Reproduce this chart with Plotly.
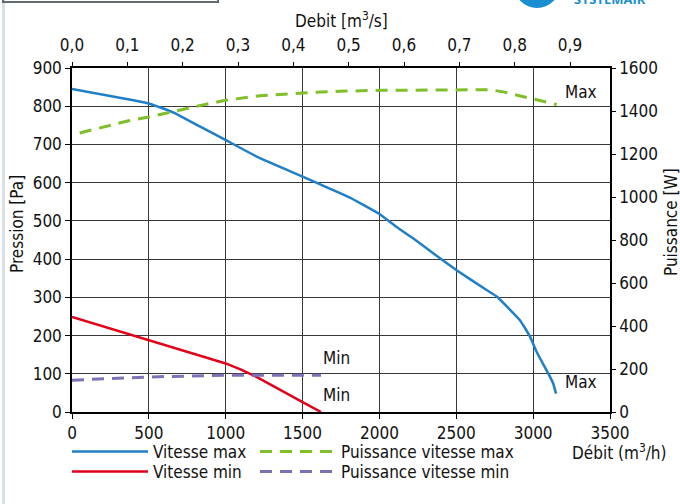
import plotly.graph_objects as go

# ---------------- data ----------------
q_vmax = [0, 354, 500, 658, 831, 998, 1222, 1500, 1680, 1808, 1895, 2000, 2112, 2210,
          2394, 2502, 2697, 2763, 2914, 2980, 3023, 3110, 3131, 3149]
p_vmax = [845, 819, 807, 784, 747, 712, 664, 616, 584, 561, 542, 518, 484, 457,
          402, 371, 319, 302, 240, 197, 157, 92, 74, 48]

q_vmin = [0, 500, 1000, 1100, 1200, 1500, 1620]
p_vmin = [249, 188, 127, 111, 92, 26, 0]

q_pmax = [50, 354, 500, 658, 831, 998, 1222, 1500, 1743, 2000, 2502, 2719, 2806, 3001, 3153]
w_pmax = [1298, 1352, 1372, 1398, 1425, 1450, 1471, 1484, 1492, 1496, 1496, 1499, 1489, 1456, 1430]

q_pmin = [0, 500, 1000, 1620]
w_pmin = [148, 163, 171, 171]

top_ticks = [0.0, 0.1, 0.2, 0.3, 0.4, 0.5, 0.6, 0.7, 0.8, 0.9]
top_labels = ["0,0", "0,1", "0,2", "0,3", "0,4", "0,5", "0,6", "0,7", "0,8", "0,9"]

FONT = "DejaVu Sans Condensed, Liberation Sans Narrow, sans-serif"
FS = 17
BLUE = "#1f7fc7"
RED = "#e2001a"
GREEN = "#7fbf2a"
PURPLE = "#8070b8"
GRID = "#383838"

W, H = 680, 504
L, R, T, B = 72, 70, 68, 92


def px(x):
    return (x - L) / (W - L - R)


def py(y):
    return (H - B - y) / (H - T - B)


fig = go.Figure()
fig.add_trace(go.Scatter(x=q_vmax, y=p_vmax, mode="lines", name="Vitesse max",
                         line=dict(color=BLUE, width=2.5, shape="spline", smoothing=0.4),
                         legend="legend"))
fig.add_trace(go.Scatter(x=q_vmin, y=p_vmin, mode="lines", name="Vitesse min",
                         line=dict(color=RED, width=2.5), legend="legend2"))
fig.add_trace(go.Scatter(x=q_pmax, y=w_pmax, mode="lines", name="Puissance vitesse max",
                         yaxis="y2", line=dict(color=GREEN, width=3, dash="12px,8px"),
                         legend="legend3"))
fig.add_trace(go.Scatter(x=q_pmin, y=w_pmin, mode="lines", name="Puissance vitesse min",
                         yaxis="y2", line=dict(color=PURPLE, width=3, dash="12px,8px"),
                         legend="legend4"))
# carrier for the top m3/s axis
fig.add_trace(go.Scatter(x=[top_ticks[0]], y=[0], xaxis="x2", mode="markers",
                         marker=dict(opacity=0), showlegend=False, hoverinfo="skip"))

axfont = dict(family=FONT, size=FS, color="#111")

fig.update_layout(
    width=W, height=H,
    margin=dict(l=L, r=R, t=T, b=B, pad=0, autoexpand=False),
    paper_bgcolor="white", plot_bgcolor="white",
    font=dict(family=FONT, size=FS, color="#111"),
    xaxis=dict(range=[0, 3500], tickvals=[0, 500, 1000, 1500, 2000, 2500, 3000, 3500],
               showgrid=True, gridcolor=GRID, gridwidth=1, zeroline=False, automargin=False,
               showline=True, linecolor="black", linewidth=1.5,
               ticks="outside", ticklen=5, tickcolor="black", tickfont=axfont),
    xaxis2=dict(range=[0, 3500 / 3600], overlaying="x", side="top", anchor="y",
                tickvals=top_ticks, ticktext=top_labels, showgrid=False, zeroline=False,
                showline=True, linecolor="black", linewidth=1.5, automargin=False,
                ticks="outside", ticklen=4, tickcolor="black", tickfont=axfont,
                ticklabelstandoff=4),
    yaxis=dict(range=[0, 900], tickvals=list(range(0, 901, 100)),
               showgrid=True, gridcolor=GRID, gridwidth=1, zeroline=False, automargin=False,
               showline=True, linecolor="black", linewidth=1.5,
               ticks="outside", ticklen=5, tickcolor="black", tickfont=axfont),
    yaxis2=dict(range=[0, 1600], tickvals=list(range(0, 1601, 200)), overlaying="y",
                side="right", showgrid=False, zeroline=False, automargin=False,
                showline=True, linecolor="black", linewidth=1.5,
                ticks="outside", ticklen=4, tickcolor="black", tickfont=axfont),
)

leg_common = dict(orientation="v", xanchor="left", yanchor="middle", bgcolor="rgba(0,0,0,0)",
                  font=dict(family=FONT, size=FS, color="#111"), itemwidth=76,
                  borderwidth=0)
fig.update_layout(
    legend=dict(x=px(67), y=py(452), **leg_common),
    legend2=dict(x=px(67), y=py(472), **leg_common),
    legend3=dict(x=px(255), y=py(452), **leg_common),
    legend4=dict(x=px(255), y=py(472), **leg_common),
)

txt = dict(family=FONT, size=FS, color="#111")
ann = []


def add_paper(text, x, y, angle=0, **kw):
    ann.append(dict(text=text, x=px(x), y=py(y), xref="paper", yref="paper",
                    xanchor="center", yanchor="middle", showarrow=False,
                    textangle=angle, font=txt, **kw))


add_paper("Debit [m<sup>3</sup>/s]", 341, 20)
add_paper("Pression [Pa]", 17, 224, angle=-90)
add_paper("Puissance [W]", 671, 222, angle=-90)
add_paper("Débit (m<sup>3</sup>/h)", 619, 452)

for t, xv, yv in [("Max", 3312, 836), ("Max", 3312, 78), ("Min", 1723, 141), ("Min", 1723, 44)]:
    ann.append(dict(text=t, x=xv, y=yv, xref="x", yref="y", showarrow=False,
                    xanchor="center", yanchor="middle", font=txt))

ann.append(dict(text="<b>SYSTEMAIR</b>", x=px(572), y=py(10), xref="paper", yref="paper",
                xanchor="left", yanchor="bottom", showarrow=False,
                font=dict(family="Open Sans", size=13, color="#1a8fcf")))
fig.update_layout(annotations=ann)

shapes = []
shapes.append(dict(type="rect", xref="paper", yref="paper", x0=px(2), x1=px(5), y0=py(504), y1=py(0),
                   fillcolor="#d9e1e6", line=dict(width=0), layer="below"))
shapes.append(dict(type="rect", xref="paper", yref="paper", x0=px(3), x1=px(218), y0=py(2), y1=py(-20),
                   fillcolor="rgba(0,0,0,0)", line=dict(width=2, color="#5f6b70")))
shapes.append(dict(type="circle", xref="paper", yref="paper", x0=px(514), x1=px(560), y0=py(8), y1=py(-38),
                   fillcolor="#1a8fcf", line=dict(width=0)))
fig.update_layout(shapes=shapes)

fig.write_html("out.html", config={"displayModeBar": False},
               post_script="document.body.style.margin='0';")
